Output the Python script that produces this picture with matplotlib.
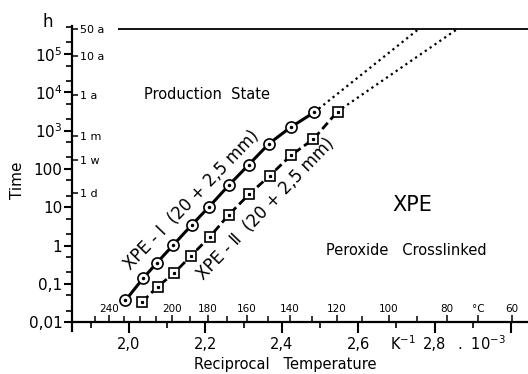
import numpy as np
import matplotlib
matplotlib.use('Agg')
import matplotlib.pyplot as plt
from matplotlib.ticker import LogLocator, NullLocator, NullFormatter

# reciprocal temperature (1000/T in 1/K) and time to failure in hours
xpe1_recip = [1.991, 2.037, 2.074, 2.116, 2.164, 2.210, 2.262, 2.314, 2.367, 2.423, 2.485]
xpe1_hours = [0.037, 0.139, 0.36, 1.03, 3.4, 10.3, 38, 130, 460, 1220, 3000]
xpe2_recip = [2.035, 2.075, 2.118, 2.162, 2.212, 2.261, 2.314, 2.369, 2.424, 2.483, 2.546]
xpe2_hours = [0.034, 0.084, 0.19, 0.53, 1.7, 6.3, 21.5, 67, 226, 600, 3150]

# dotted extrapolation up to the 50 year line
limit_50a = 438000
xpe1_extrap_recip = [2.485, 2.757]
xpe2_extrap_recip = [2.546, 2.858]

time_marks = [24, 168, 730, 8760, 87600, 438000]
time_labels = ['1 d', '1 w', '1 m', '1 a', '10 a', '50 a']

y_ticks = [0.01, 0.1, 1, 10, 100, 1e3, 1e4, 1e5]
y_labels = ['0,01', '0,1', '1', '10', '100', '$10^3$', '$10^4$', '$10^5$']
x_ticks = [2.0, 2.2, 2.4, 2.6, 2.8, 3.0]
x_minor = [1.9, 2.1, 2.3, 2.5, 2.7, 2.9]
x_labels = ['2,0', '2,2', '2,4', '2,6', '2,8', '']
celsius_ticks = [240, 200, 180, 160, 140, 120, 100, 80, 70, 60]
celsius_labels = ['240', '200', '180', '160', '140', '120', '100', '80', '°C', '60']
celsius_minor = [250, 230, 220, 210, 190, 170, 150, 130, 110, 90]

plt.rcParams['font.family'] = 'DejaVu Sans'
plt.rcParams['mathtext.default'] = 'regular'

fig = plt.figure(figsize=(5.28, 3.74), dpi=100)
ax = fig.add_axes([72 / 528, 1 - 331 / 374, 456 / 528, 305.3 / 374])

ylo, yhi = 10 ** -2.232, 10 ** 5.739
ax.set_yscale('log')
ax.set_xlim(1.851, 3.0445)
ax.set_ylim(ylo, yhi)

# curves
ax.plot(xpe1_extrap_recip, [xpe1_hours[-1], limit_50a], ':', color='k', lw=1.6, zorder=2)
ax.plot(xpe2_extrap_recip, [xpe2_hours[-1], limit_50a], ':', color='k', lw=1.6, zorder=2)
ax.plot(xpe1_recip, xpe1_hours, '-', color='k', lw=2.2, marker='o', ms=8,
        mfc='white', mec='k', mew=1.2, zorder=3)
ax.plot(xpe2_recip, xpe2_hours, color='k', lw=2.0, linestyle=(0, (3, 1.5)),
        marker='s', ms=7.2, mfc='white', mec='k', mew=1.2, zorder=3)
ax.plot(xpe1_recip, xpe1_hours, 'o', color='k', ms=1.5, zorder=4)
ax.plot(xpe2_recip, xpe2_hours, 's', color='k', ms=1.3, zorder=4)

# 50 year line
ax.hlines(limit_50a, 1.971, 3.0445, color='k', lw=1.3)

# axes styling
for side in ('top', 'right'):
    ax.spines[side].set_visible(False)
ax.spines['left'].set_linewidth(1.6)
ax.spines['bottom'].set_linewidth(1.6)
ax.spines['bottom'].set_position(('data', 0.01))

ax.set_yticks(y_ticks, y_labels, fontsize=11)
ax.yaxis.set_minor_locator(LogLocator(base=10, subs=(2, 5)))
ax.yaxis.set_minor_formatter(NullFormatter())
ax.tick_params(axis='y', which='major', direction='out', length=6, width=1.5, pad=1)
ax.tick_params(axis='y', which='minor', direction='out', length=4, width=1.2)

ax.set_xticks(x_ticks, x_labels, fontsize=10.5)
ax.set_xticks(x_minor, minor=True)
ax.tick_params(axis='x', which='major', direction='out', length=8, width=1.5, pad=3)
ax.tick_params(axis='x', which='minor', direction='out', length=4.5, width=1.2)

# celsius scale on top of the x axis
loc = (np.log10(0.01) - np.log10(ylo)) / (np.log10(yhi) - np.log10(ylo))
sec = ax.secondary_xaxis(loc, functions=(lambda r: 1000 / r - 273.15,
                                         lambda c: 1000 / (c + 273.15)))
sec.set_alignment('top')
for side in ('top', 'bottom'):
    sec.spines[side].set_visible(False)
sec.set_xticks(celsius_ticks, celsius_labels, fontsize=7.5)
sec.set_xticks(celsius_minor, minor=True)
sec.tick_params(axis='x', which='major', direction='out', length=5, width=1.1, pad=1)
sec.tick_params(axis='x', which='minor', direction='out', length=4, width=1.1)

# time marks on the inside of the y axis
sec_y = ax.secondary_yaxis(0, functions=(lambda t: t, lambda t: t))
sec_y.set_alignment('right')
for side in ('left', 'right'):
    sec_y.spines[side].set_visible(False)
sec_y.set_yticks(time_marks, time_labels, fontsize=8)
sec_y.yaxis.set_minor_locator(NullLocator())
sec_y.tick_params(axis='y', which='major', direction='out', length=4, width=1.1, pad=2)

# annotations
ax.text(2.204, 9.0e3, 'Production  State', fontsize=10.5, ha='center', va='center')
ax.text(2.743, 11.4, 'XPE', fontsize=15, ha='center', va='center')
ax.text(2.725, 0.76, 'Peroxide   Crosslinked', fontsize=10.5, ha='center', va='center')
ax.text(2.1636, 15.4, 'XPE - Ⅰ  (20 + 2,5 mm)', fontsize=12, rotation=46,
        ha='center', va='center', rotation_mode='anchor')
ax.text(2.3586, 9.0, 'XPE - Ⅱ  (20 + 2,5 mm)', fontsize=12, rotation=46,
        ha='center', va='center', rotation_mode='anchor')

fig.text(48 / 528, 1 - 22 / 374, 'h', fontsize=12, ha='center', va='center')
fig.text(17 / 528, 1 - 180 / 374, 'Time', fontsize=11, rotation=90, ha='center', va='center')
fig.text(285 / 528, 1 - 364 / 374, 'Reciprocal   Temperature', fontsize=10.5,
         ha='center', va='center')
fig.text(390 / 528, 1 - 344 / 374, 'K$^{-1}$', fontsize=10.5, ha='left', va='center')
fig.text(457 / 528, 1 - 344 / 374, '.  10$^{-3}$', fontsize=10.5, ha='left', va='center')

fig.savefig('out.png', dpi=100)
